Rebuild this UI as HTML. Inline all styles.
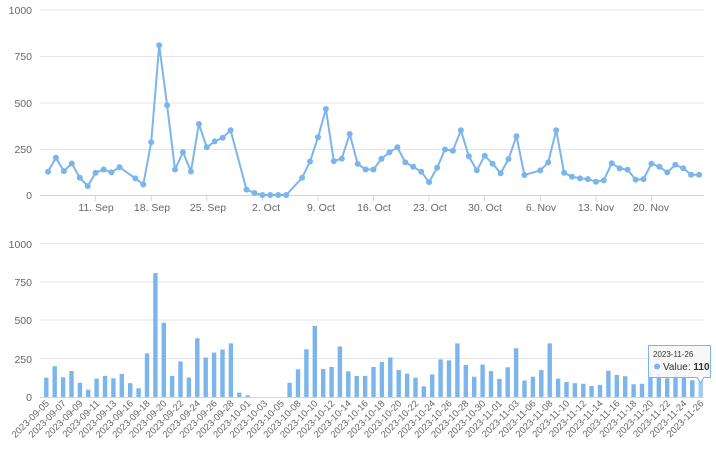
<!DOCTYPE html>
<html><head><meta charset="utf-8"><style>
html,body{margin:0;padding:0;background:#fff;}
svg{display:block;font-family:"Liberation Sans","Noto Sans CJK SC",sans-serif;}
.g{stroke:#e6e6e6;stroke-width:1;}
.yl{font-size:10.5px;fill:#666;text-anchor:end;}
.xl{font-size:10.5px;fill:#666;text-anchor:middle;}
.bl{font-size:9.5px;fill:#666;text-anchor:end;}
.p{fill:#7cb5ec;}
.b{fill:#7cb5ec;}
</style></head><body>
<svg width="716" height="452" viewBox="0 0 716 452">
<!-- TOP CHART -->
<line class="g" x1="40" y1="10" x2="704" y2="10"/>
<line class="g" x1="40" y1="56.5" x2="704" y2="56.5"/>
<line class="g" x1="40" y1="103" x2="704" y2="103"/>
<line class="g" x1="40" y1="149.5" x2="704" y2="149.5"/>
<line x1="40" y1="195.5" x2="704" y2="195.5" stroke="#ccd6eb"/>
<text class="yl" x="32" y="14">1000</text>
<text class="yl" x="32" y="60">750</text>
<text class="yl" x="32" y="107">500</text>
<text class="yl" x="32" y="153">250</text>
<text class="yl" x="32" y="199">0</text>
<g stroke="#ccd6eb">
<line x1="95.6" y1="196" x2="95.6" y2="201"/><line x1="151.2" y1="196" x2="151.2" y2="201"/><line x1="206.8" y1="196" x2="206.8" y2="201"/><line x1="262.4" y1="196" x2="262.4" y2="201"/><line x1="318" y1="196" x2="318" y2="201"/><line x1="373.5" y1="196" x2="373.5" y2="201"/><line x1="429.1" y1="196" x2="429.1" y2="201"/><line x1="484.7" y1="196" x2="484.7" y2="201"/><line x1="540.3" y1="196" x2="540.3" y2="201"/><line x1="595.9" y1="196" x2="595.9" y2="201"/><line x1="651.4" y1="196" x2="651.4" y2="201"/>
</g>
<text class="xl" x="96" y="211">11. Sep</text>
<text class="xl" x="152" y="211">18. Sep</text>
<text class="xl" x="208" y="211">25. Sep</text>
<text class="xl" x="266" y="211">2. Oct</text>
<text class="xl" x="321" y="211">9. Oct</text>
<text class="xl" x="374" y="211">16. Oct</text>
<text class="xl" x="430" y="211">23. Oct</text>
<text class="xl" x="485" y="211">30. Oct</text>
<text class="xl" x="541" y="211">6. Nov</text>
<text class="xl" x="596" y="211">13. Nov</text>
<text class="xl" x="651" y="211">20. Nov</text>
<polyline fill="none" stroke="#7cb5ec" stroke-width="2" stroke-linejoin="round" points="48,171.7 55.9,157.8 63.9,171.1 71.8,163.5 79.8,177.8 87.7,186.1 95.6,172.8 103.6,169.5 111.5,172.4 119.5,167.1 135.3,178.4 143.3,184.5 151.2,142.3 159.2,45.2 167.1,105.3 175,169.5 183,152.1 190.9,171.5 198.9,124 206.8,147.3 214.7,141.4 222.7,137.7 230.6,130.3 246.5,189.6 254.4,193 262.4,195 270.3,195 278.3,195 286.2,195 302.1,177.8 310,161.5 318,137.3 325.9,109 333.8,161.1 341.8,158.6 349.7,134 357.7,163.9 365.6,169.5 373.5,169.5 381.5,158.7 389.4,152.4 397.4,147.3 405.3,162.4 413.2,166.7 421.2,171.7 429.1,182.1 437.1,167.8 445,149.5 452.9,150.8 460.9,130.3 468.8,156.2 476.8,170.4 484.7,155.8 492.6,163.7 500.6,173.2 508.5,159.1 516.5,136.2 524.4,175 540.3,170.4 548.2,162.4 556.2,130.3 564.1,172.8 572,176.7 580,178.4 587.9,179.1 595.9,181.7 603.8,180.4 611.7,163.2 619.7,168.4 627.6,169.8 635.6,179.6 643.5,179.1 651.4,163.7 659.4,166.7 667.3,172.4 675.3,164.8 683.2,168.2 691.1,174.7 699.1,174.7"/>
<g class="p">
<circle cx="48" cy="171.7" r="3"/><circle cx="55.9" cy="157.8" r="3"/><circle cx="63.9" cy="171.1" r="3"/><circle cx="71.8" cy="163.5" r="3"/><circle cx="79.8" cy="177.8" r="3"/><circle cx="87.7" cy="186.1" r="3"/><circle cx="95.6" cy="172.8" r="3"/><circle cx="103.6" cy="169.5" r="3"/><circle cx="111.5" cy="172.4" r="3"/><circle cx="119.5" cy="167.1" r="3"/><circle cx="135.3" cy="178.4" r="3"/><circle cx="143.3" cy="184.5" r="3"/><circle cx="151.2" cy="142.3" r="3"/><circle cx="159.2" cy="45.2" r="3"/><circle cx="167.1" cy="105.3" r="3"/><circle cx="175" cy="169.5" r="3"/><circle cx="183" cy="152.1" r="3"/><circle cx="190.9" cy="171.5" r="3"/><circle cx="198.9" cy="124" r="3"/><circle cx="206.8" cy="147.3" r="3"/><circle cx="214.7" cy="141.4" r="3"/><circle cx="222.7" cy="137.7" r="3"/><circle cx="230.6" cy="130.3" r="3"/><circle cx="246.5" cy="189.6" r="3"/><circle cx="254.4" cy="193" r="3"/><circle cx="262.4" cy="195" r="3"/><circle cx="270.3" cy="195" r="3"/><circle cx="278.3" cy="195" r="3"/><circle cx="286.2" cy="195" r="3"/><circle cx="302.1" cy="177.8" r="3"/><circle cx="310" cy="161.5" r="3"/><circle cx="318" cy="137.3" r="3"/><circle cx="325.9" cy="109" r="3"/><circle cx="333.8" cy="161.1" r="3"/><circle cx="341.8" cy="158.6" r="3"/><circle cx="349.7" cy="134" r="3"/><circle cx="357.7" cy="163.9" r="3"/><circle cx="365.6" cy="169.5" r="3"/><circle cx="373.5" cy="169.5" r="3"/><circle cx="381.5" cy="158.7" r="3"/><circle cx="389.4" cy="152.4" r="3"/><circle cx="397.4" cy="147.3" r="3"/><circle cx="405.3" cy="162.4" r="3"/><circle cx="413.2" cy="166.7" r="3"/><circle cx="421.2" cy="171.7" r="3"/><circle cx="429.1" cy="182.1" r="3"/><circle cx="437.1" cy="167.8" r="3"/><circle cx="445" cy="149.5" r="3"/><circle cx="452.9" cy="150.8" r="3"/><circle cx="460.9" cy="130.3" r="3"/><circle cx="468.8" cy="156.2" r="3"/><circle cx="476.8" cy="170.4" r="3"/><circle cx="484.7" cy="155.8" r="3"/><circle cx="492.6" cy="163.7" r="3"/><circle cx="500.6" cy="173.2" r="3"/><circle cx="508.5" cy="159.1" r="3"/><circle cx="516.5" cy="136.2" r="3"/><circle cx="524.4" cy="175" r="3"/><circle cx="540.3" cy="170.4" r="3"/><circle cx="548.2" cy="162.4" r="3"/><circle cx="556.2" cy="130.3" r="3"/><circle cx="564.1" cy="172.8" r="3"/><circle cx="572" cy="176.7" r="3"/><circle cx="580" cy="178.4" r="3"/><circle cx="587.9" cy="179.1" r="3"/><circle cx="595.9" cy="181.7" r="3"/><circle cx="603.8" cy="180.4" r="3"/><circle cx="611.7" cy="163.2" r="3"/><circle cx="619.7" cy="168.4" r="3"/><circle cx="627.6" cy="169.8" r="3"/><circle cx="635.6" cy="179.6" r="3"/><circle cx="643.5" cy="179.1" r="3"/><circle cx="651.4" cy="163.7" r="3"/><circle cx="659.4" cy="166.7" r="3"/><circle cx="667.3" cy="172.4" r="3"/><circle cx="675.3" cy="164.8" r="3"/><circle cx="683.2" cy="168.2" r="3"/><circle cx="691.1" cy="174.7" r="3"/><circle cx="699.1" cy="174.7" r="3"/>
</g>

<!-- BOTTOM CHART -->
<line class="g" x1="40" y1="243.5" x2="704" y2="243.5"/>
<line class="g" x1="40" y1="282" x2="704" y2="282"/>
<line class="g" x1="40" y1="320" x2="704" y2="320"/>
<line class="g" x1="40" y1="358.5" x2="704" y2="358.5"/>
<line x1="40" y1="397.5" x2="704" y2="397.5" stroke="#ccd6eb"/>
<text class="yl" x="32" y="248">1000</text>
<text class="yl" x="32" y="286">750</text>
<text class="yl" x="32" y="324">500</text>
<text class="yl" x="32" y="363">250</text>
<text class="yl" x="32" y="401">0</text>
<g class="b">
<rect x="44.1" y="377.7" width="4.4" height="19.3"/><rect x="52.5" y="366.2" width="4.4" height="30.8"/><rect x="60.9" y="377.3" width="4.4" height="19.7"/><rect x="69.3" y="371" width="4.4" height="26"/><rect x="77.7" y="382.8" width="4.4" height="14.2"/><rect x="86" y="389.7" width="4.4" height="7.3"/><rect x="94.4" y="378.6" width="4.4" height="18.4"/><rect x="102.8" y="375.9" width="4.4" height="21.1"/><rect x="111.2" y="378.3" width="4.4" height="18.7"/><rect x="119.6" y="373.9" width="4.4" height="23.1"/><rect x="128" y="383.2" width="4.4" height="13.8"/><rect x="136.4" y="388.3" width="4.4" height="8.7"/><rect x="144.8" y="353.4" width="4.4" height="43.6"/><rect x="153.2" y="273.1" width="4.4" height="123.9"/><rect x="161.6" y="322.8" width="4.4" height="74.2"/><rect x="169.9" y="375.9" width="4.4" height="21.1"/><rect x="178.3" y="361.5" width="4.4" height="35.5"/><rect x="186.7" y="377.6" width="4.4" height="19.4"/><rect x="195.1" y="338.2" width="4.4" height="58.8"/><rect x="203.5" y="357.5" width="4.4" height="39.5"/><rect x="211.9" y="352.6" width="4.4" height="44.4"/><rect x="220.3" y="349.6" width="4.4" height="47.4"/><rect x="228.7" y="343.4" width="4.4" height="53.6"/><rect x="237.1" y="392.6" width="4.4" height="4.4"/><rect x="245.5" y="395.3" width="4.4" height="1.7"/><rect x="287.4" y="382.8" width="4.4" height="14.2"/><rect x="295.8" y="369.3" width="4.4" height="27.7"/><rect x="304.2" y="349.3" width="4.4" height="47.7"/><rect x="312.6" y="325.9" width="4.4" height="71.1"/><rect x="321" y="369" width="4.4" height="28"/><rect x="329.4" y="366.9" width="4.4" height="30.1"/><rect x="337.7" y="346.5" width="4.4" height="50.5"/><rect x="346.1" y="371.3" width="4.4" height="25.7"/><rect x="354.5" y="375.9" width="4.4" height="21.1"/><rect x="362.9" y="375.9" width="4.4" height="21.1"/><rect x="371.3" y="367" width="4.4" height="30"/><rect x="379.7" y="361.8" width="4.4" height="35.2"/><rect x="388.1" y="357.5" width="4.4" height="39.5"/><rect x="396.5" y="370.1" width="4.4" height="26.9"/><rect x="404.9" y="373.6" width="4.4" height="23.4"/><rect x="413.3" y="377.7" width="4.4" height="19.3"/><rect x="421.6" y="386.3" width="4.4" height="10.7"/><rect x="430" y="374.5" width="4.4" height="22.5"/><rect x="438.4" y="359.4" width="4.4" height="37.6"/><rect x="446.8" y="360.4" width="4.4" height="36.6"/><rect x="455.2" y="343.4" width="4.4" height="53.6"/><rect x="463.6" y="364.9" width="4.4" height="32.1"/><rect x="472" y="376.7" width="4.4" height="20.3"/><rect x="480.4" y="364.6" width="4.4" height="32.4"/><rect x="488.8" y="371.1" width="4.4" height="25.9"/><rect x="497.2" y="378.9" width="4.4" height="18.1"/><rect x="505.5" y="367.3" width="4.4" height="29.7"/><rect x="513.9" y="348.3" width="4.4" height="48.7"/><rect x="522.3" y="380.5" width="4.4" height="16.5"/><rect x="530.7" y="376.7" width="4.4" height="20.3"/><rect x="539.1" y="370.1" width="4.4" height="26.9"/><rect x="547.5" y="343.4" width="4.4" height="53.6"/><rect x="555.9" y="378.6" width="4.4" height="18.4"/><rect x="564.3" y="381.9" width="4.4" height="15.1"/><rect x="572.7" y="383.2" width="4.4" height="13.8"/><rect x="581.1" y="383.8" width="4.4" height="13.2"/><rect x="589.4" y="386" width="4.4" height="11"/><rect x="597.8" y="384.9" width="4.4" height="12.1"/><rect x="606.2" y="370.7" width="4.4" height="26.3"/><rect x="614.6" y="375" width="4.4" height="22"/><rect x="623" y="376.2" width="4.4" height="20.8"/><rect x="631.4" y="384.3" width="4.4" height="12.7"/><rect x="639.8" y="383.8" width="4.4" height="13.2"/><rect x="648.2" y="371.1" width="4.4" height="25.9"/><rect x="656.6" y="373.6" width="4.4" height="23.4"/><rect x="665" y="378.3" width="4.4" height="18.7"/><rect x="673.3" y="372.1" width="4.4" height="24.9"/><rect x="681.7" y="374.8" width="4.4" height="22.2"/><rect x="690.1" y="380.2" width="4.4" height="16.8"/><rect x="698.5" y="380.2" width="4.4" height="16.8" fill="#9fcbf2"/>
</g>
<g>
<text class="bl" transform="translate(49.8,404) rotate(-45)">2023-09-05</text>
<text class="bl" transform="translate(66.6,404) rotate(-45)">2023-09-07</text>
<text class="bl" transform="translate(83.4,404) rotate(-45)">2023-09-09</text>
<text class="bl" transform="translate(100.1,404) rotate(-45)">2023-09-11</text>
<text class="bl" transform="translate(116.9,404) rotate(-45)">2023-09-13</text>
<text class="bl" transform="translate(133.7,404) rotate(-45)">2023-09-16</text>
<text class="bl" transform="translate(150.5,404) rotate(-45)">2023-09-18</text>
<text class="bl" transform="translate(167.3,404) rotate(-45)">2023-09-20</text>
<text class="bl" transform="translate(184,404) rotate(-45)">2023-09-22</text>
<text class="bl" transform="translate(200.8,404) rotate(-45)">2023-09-24</text>
<text class="bl" transform="translate(217.6,404) rotate(-45)">2023-09-26</text>
<text class="bl" transform="translate(234.4,404) rotate(-45)">2023-09-28</text>
<text class="bl" transform="translate(251.2,404) rotate(-45)">2023-10-01</text>
<text class="bl" transform="translate(267.9,404) rotate(-45)">2023-10-03</text>
<text class="bl" transform="translate(284.7,404) rotate(-45)">2023-10-05</text>
<text class="bl" transform="translate(301.5,404) rotate(-45)">2023-10-08</text>
<text class="bl" transform="translate(318.3,404) rotate(-45)">2023-10-10</text>
<text class="bl" transform="translate(335.1,404) rotate(-45)">2023-10-12</text>
<text class="bl" transform="translate(351.8,404) rotate(-45)">2023-10-14</text>
<text class="bl" transform="translate(368.6,404) rotate(-45)">2023-10-16</text>
<text class="bl" transform="translate(385.4,404) rotate(-45)">2023-10-18</text>
<text class="bl" transform="translate(402.2,404) rotate(-45)">2023-10-20</text>
<text class="bl" transform="translate(419,404) rotate(-45)">2023-10-22</text>
<text class="bl" transform="translate(435.7,404) rotate(-45)">2023-10-24</text>
<text class="bl" transform="translate(452.5,404) rotate(-45)">2023-10-26</text>
<text class="bl" transform="translate(469.3,404) rotate(-45)">2023-10-28</text>
<text class="bl" transform="translate(486.1,404) rotate(-45)">2023-10-30</text>
<text class="bl" transform="translate(502.9,404) rotate(-45)">2023-11-01</text>
<text class="bl" transform="translate(519.6,404) rotate(-45)">2023-11-03</text>
<text class="bl" transform="translate(536.4,404) rotate(-45)">2023-11-06</text>
<text class="bl" transform="translate(553.2,404) rotate(-45)">2023-11-08</text>
<text class="bl" transform="translate(570,404) rotate(-45)">2023-11-10</text>
<text class="bl" transform="translate(586.8,404) rotate(-45)">2023-11-12</text>
<text class="bl" transform="translate(603.5,404) rotate(-45)">2023-11-14</text>
<text class="bl" transform="translate(620.3,404) rotate(-45)">2023-11-16</text>
<text class="bl" transform="translate(637.1,404) rotate(-45)">2023-11-18</text>
<text class="bl" transform="translate(653.9,404) rotate(-45)">2023-11-20</text>
<text class="bl" transform="translate(670.7,404) rotate(-45)">2023-11-22</text>
<text class="bl" transform="translate(687.4,404) rotate(-45)">2023-11-24</text>
<text class="bl" transform="translate(704.2,404) rotate(-45)">2023-11-26</text>
</g>
<!-- tooltip -->
<path d="M648.5,345.5 H710.5 V377.5 H704 L700.5,383 L697,377.5 H648.5 Z" fill="#f7f7f7" fill-opacity="0.92" stroke="#7cb5ec" stroke-width="1"/>
<text x="653" y="357" font-size="8px" fill="#333">2023-11-26</text>
<circle cx="657" cy="366.5" r="3" fill="#7cb5ec"/>
<text x="663" y="370" font-size="10px" fill="#333">Value: <tspan font-weight="bold">110</tspan></text>
</svg>
</body></html>
